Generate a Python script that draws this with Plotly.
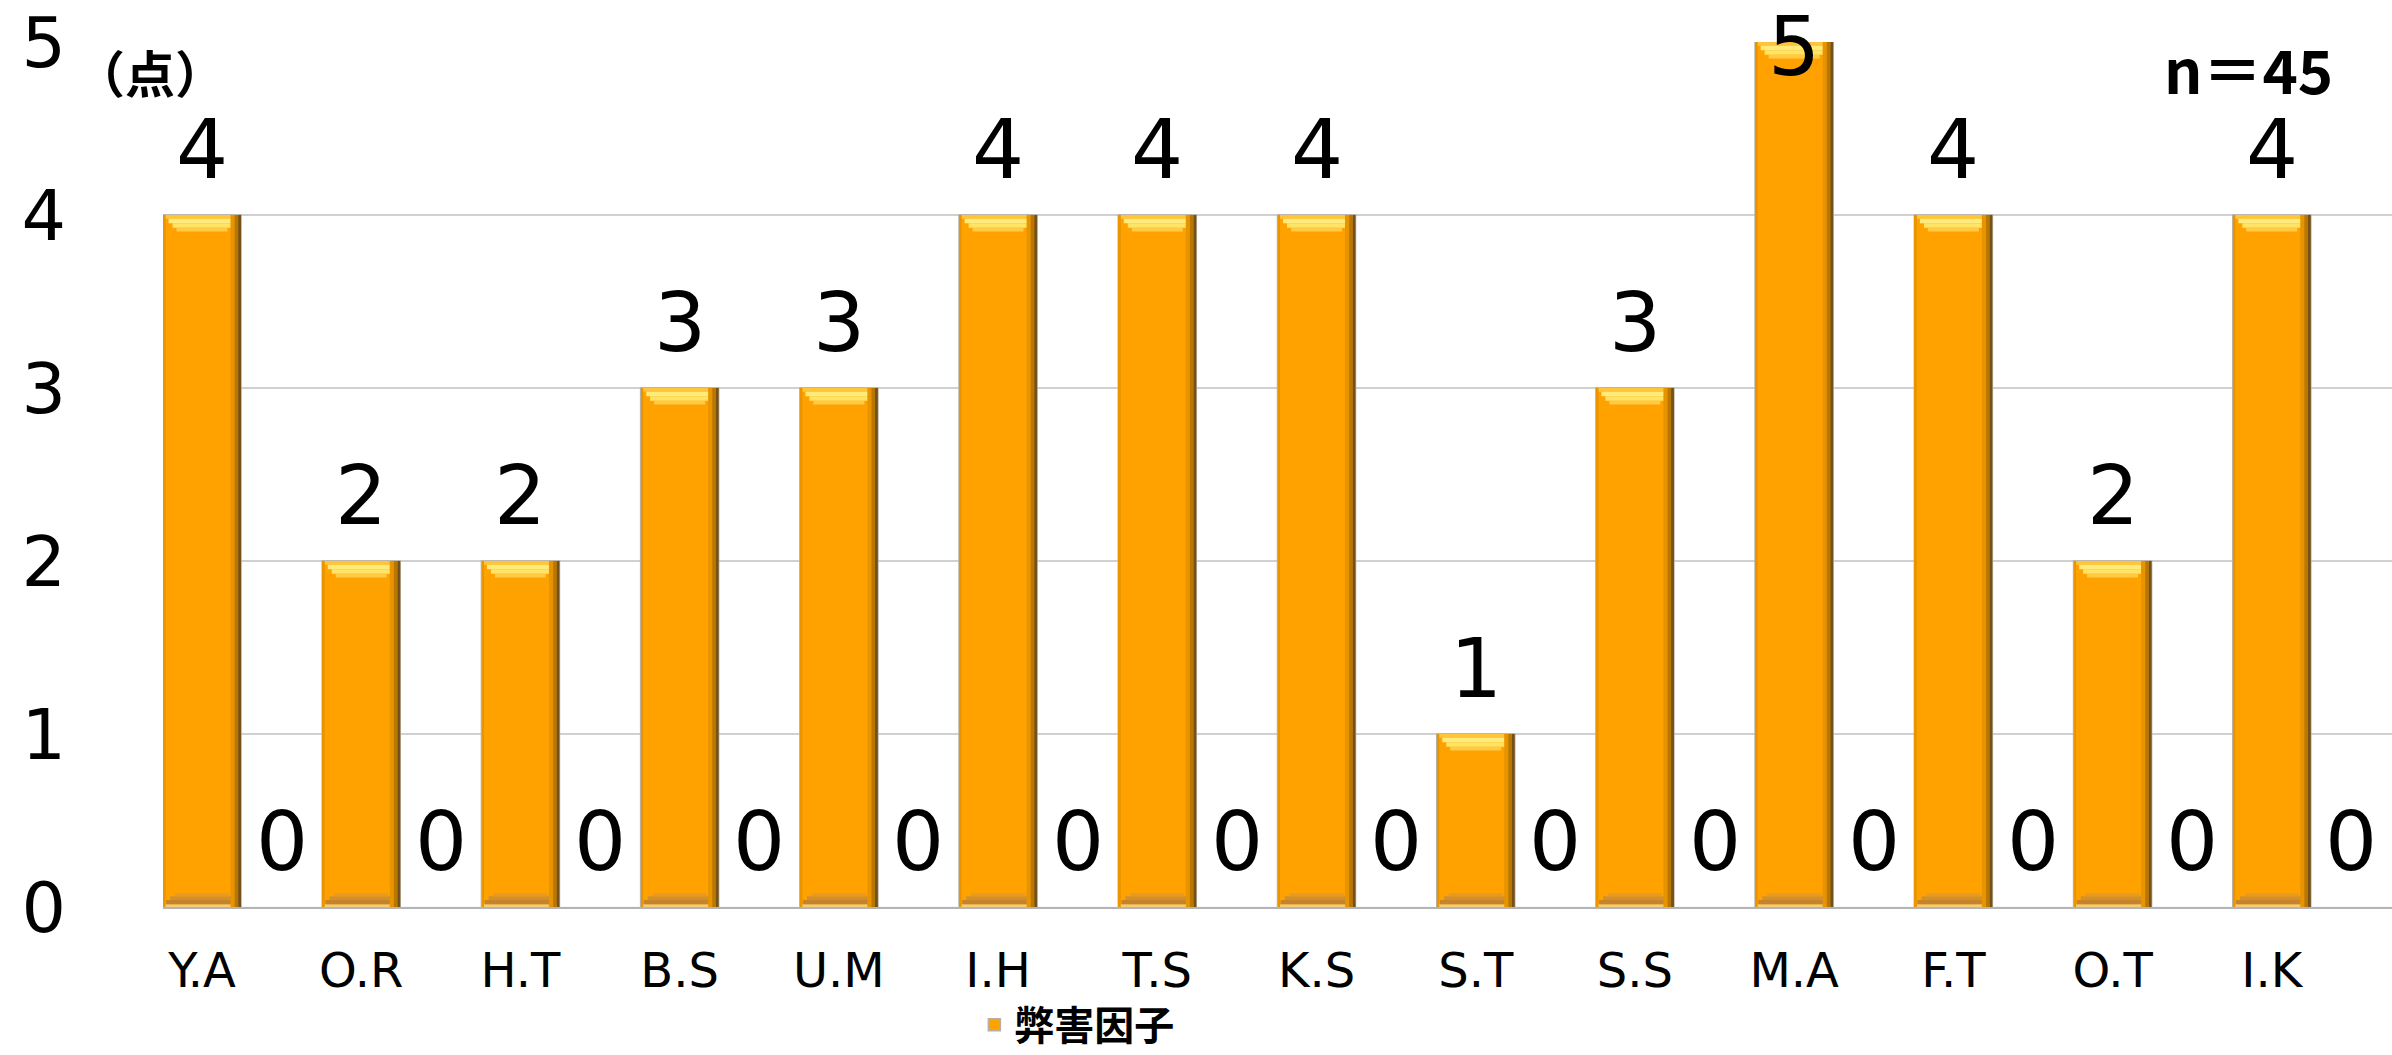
import numpy as np
import plotly.graph_objects as go

# Scores per person
names = ["Y.A", "O.R", "H.T", "B.S", "U.M", "I.H", "T.S",
         "K.S", "S.T", "S.S", "M.A", "F.T", "O.T", "I.K"]
harm_scores = [4, 2, 2, 3, 3, 4, 4, 4, 1, 3, 5, 4, 2, 4]
other_scores = [0, 0, 0, 0, 0, 0, 0, 0, 0, 0, 0, 0, 0, 0]
y_ticks = [0, 1, 2, 3, 4, 5]
series_name = "弊害因子"
unit_label = "（点）"
sample_label = "n＝45"

Y_MAX = 5
BAR_W = 0.49
ORANGE = "#FFA200"
NUM_FONT = "DejaVu Sans"
CJK_FONT = "Noto Sans CJK JP"

pos = np.arange(len(names))
vals = np.array(harm_scores, dtype=float)

fig = go.Figure()

# main bars
fig.add_trace(go.Bar(
    x=pos, y=vals, width=BAR_W, name=series_name,
    marker=dict(color=ORANGE, line=dict(color="#B8B0A0", width=1.5)),
    showlegend=True, hoverinfo="x+y",
))
# second series (all zero) sits in the gap to the right of each bar
fig.add_trace(go.Bar(
    x=pos + 0.5, y=other_scores, width=BAR_W, name="系列2",
    marker=dict(color=ORANGE), showlegend=False, hoverinfo="skip",
))


def bevel(base, height, width, left, color):
    """Thin overlay bar used to fake the bevelled 3-D look."""
    fig.add_trace(go.Bar(
        x=pos, y=height, base=base, width=width, offset=left,
        marker=dict(color=color, line=dict(width=0)),
        showlegend=False, hoverinfo="skip",
    ))


half = BAR_W / 2
ones = np.ones_like(vals)
zero = 0 * vals

# bottom chamfer: stepped trapezoid, wide at the foot
bottom_steps = [(0.000, 0.016, 0.47, "#F2CC7A"),
                (0.016, 0.024, 0.45, "#C5842A"),
                (0.040, 0.022, 0.40, "#D28F2E"),
                (0.062, 0.018, 0.34, "#E69A26")]
for b, h, w, c in bottom_steps:
    bevel(zero + b, h * ones, w, -w / 2, c)

# top chamfer: stepped trapezoid, wide at the top
top_steps = [(0.000, 0.022, 0.47, "#FFC43A"),
             (0.022, 0.026, 0.42, "#FFEA7C"),
             (0.048, 0.026, 0.37, "#FFE466"),
             (0.074, 0.022, 0.32, "#FFCA44")]
for d, h, w, c in top_steps:
    bevel(vals - d - h, h * ones, w, -w / 2, c)

# darker shading along the right edge
bevel(zero, vals, 0.030, half - 0.066, "#E89300")
bevel(zero, vals, 0.022, half - 0.040, "#B87800")
bevel(zero, vals, 0.018, half - 0.018, "#74501A")
# slight darker left edge
bevel(zero, vals, 0.012, -half + 0.004, "#E99400")

# value labels
annotations = []
for p, v in zip(pos, harm_scores):
    top = v >= Y_MAX
    annotations.append(dict(
        x=p, y=v, xref="x", yref="y", text=str(v), showarrow=False,
        yanchor="middle" if top else "bottom",
        yshift=-4 if top else 16,
        font=dict(family=NUM_FONT, size=82, color="black"),
    ))
for p, v in zip(pos + 0.5, other_scores):
    annotations.append(dict(
        x=p, y=v, xref="x", yref="y", text=str(v), showarrow=False,
        yanchor="bottom", yshift=16,
        font=dict(family=NUM_FONT, size=82, color="black"),
    ))

annotations.append(dict(
    x=-0.006, y=0.966, xref="paper", yref="paper", text=unit_label,
    showarrow=False, xanchor="center", yanchor="middle",
    font=dict(family=CJK_FONT, size=50, color="black", weight="bold"),
))
annotations.append(dict(
    x=0.9744, y=0.970, xref="paper", yref="paper", text=sample_label,
    showarrow=False, xanchor="right", yanchor="middle",
    font=dict(family=CJK_FONT, size=60, color="black", weight="bold"),
))

fig.update_layout(
    width=2392, height=1055,
    margin=dict(l=163, r=0, t=42, b=148, autoexpand=False),
    paper_bgcolor="white", plot_bgcolor="white",
    barmode="overlay",
    annotations=annotations,
    legend=dict(
        orientation="h", x=0.364, xanchor="left", y=-0.136, yanchor="middle",
        font=dict(family=CJK_FONT, size=40, color="black", weight="bold"),
        bgcolor="rgba(0,0,0,0)",
    ),
    xaxis=dict(
        range=[-half, len(names) - half],
        tickmode="array", tickvals=pos, ticktext=names,
        tickfont=dict(family=NUM_FONT, size=48, color="black"),
        showgrid=False, zeroline=False,
        showline=True, linecolor="#B4B4B4", linewidth=2,
        ticks="", ticklabelstandoff=20, automargin=False,
    ),
    yaxis=dict(
        range=[0, Y_MAX], tickmode="array", tickvals=y_ticks,
        tickfont=dict(family=NUM_FONT, size=70, color="black"),
        showgrid=True, gridcolor="#D0D0D0", gridwidth=2,
        zeroline=False, showline=False, ticks="",
        ticklabelstandoff=96, automargin=False,
    ),
)

fig.write_html("out.html")
